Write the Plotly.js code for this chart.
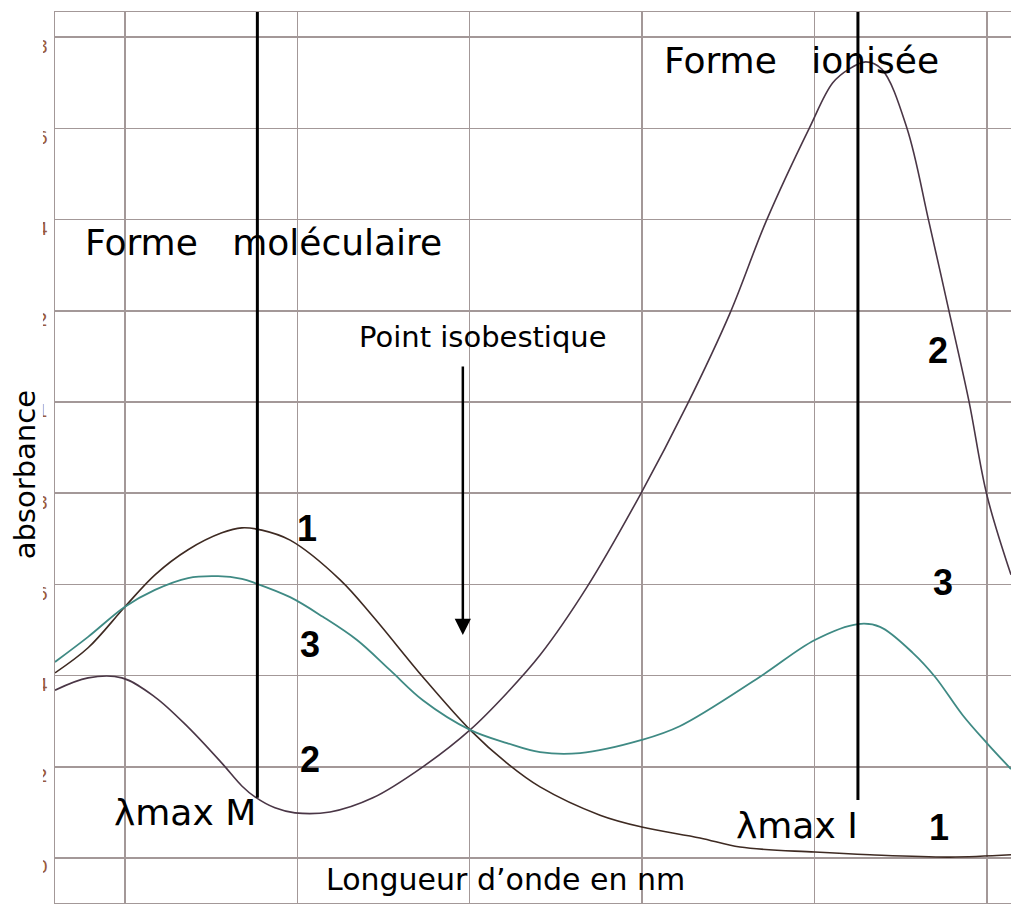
<!DOCTYPE html>
<html>
<head>
<meta charset="utf-8">
<script src="https://cdn.plot.ly/plotly-3.0.1.min.js"></script>
<style>
  html, body { margin: 0; padding: 0; background: #ffffff; }
  #chart { width: 1011px; height: 904px; }
</style>
</head>
<body>
<div id="chart"></div>
<script>
// Spectres d'absorption : forme moléculaire (1), forme ionisée (2), mélange (3)
const wavelength1 = [379.7, 389.3, 400.0, 408.7, 418.3, 428.1, 433.9, 439.7, 447.9, 462.4, 472.0, 486.4, 500.1, 510.8, 520.4, 537.8, 549.9, 566.8, 578.4, 600.1, 616.1, 639.3, 657.0];
const absorbance1 = [0.406, 0.461, 0.551, 0.621, 0.676, 0.713, 0.724, 0.719, 0.697, 0.610, 0.529, 0.397, 0.281, 0.208, 0.156, 0.094, 0.068, 0.044, 0.024, 0.013, 0.007, 0.002, 0.007];

const wavelength2 = [379.7, 389.3, 399.1, 408.7, 418.3, 428.1, 433.9, 437.7, 443.5, 449.3, 459.5, 471.9, 486.4, 500.1, 510.8, 520.4, 534.0, 549.4, 563.0, 575.5, 585.9, 598.4, 605.3, 610.0, 614.9, 619.5, 626.8, 633.2, 639.0, 644.8, 650.0, 657.0];
const absorbance2 = [0.368, 0.395, 0.395, 0.353, 0.287, 0.208, 0.158, 0.134, 0.110, 0.099, 0.101, 0.132, 0.200, 0.281, 0.362, 0.445, 0.594, 0.796, 0.993, 1.195, 1.395, 1.599, 1.700, 1.730, 1.746, 1.730, 1.601, 1.395, 1.200, 1.002, 0.796, 0.621];

const wavelength3 = [379.7, 389.3, 400.0, 408.7, 418.3, 427.0, 433.9, 437.7, 447.9, 457.4, 467.3, 476.9, 486.4, 500.1, 510.8, 520.4, 532.0, 549.9, 560.9, 584.1, 600.1, 612.6, 619.0, 628.5, 635.0, 643.0, 650.0, 657.0];
const absorbance3 = [0.430, 0.485, 0.551, 0.588, 0.614, 0.618, 0.612, 0.603, 0.572, 0.529, 0.478, 0.412, 0.346, 0.281, 0.252, 0.232, 0.230, 0.259, 0.289, 0.397, 0.478, 0.513, 0.507, 0.450, 0.397, 0.313, 0.252, 0.195];

// Longueurs d'onde repères (nm) et absorbance au pied des traits verticaux
const lambdaMaxM = 438.4;
const lambdaMaxI = 612.6;
const lambdaMaxMFoot = 0.132;
const lambdaMaxIFoot = 0.127;
const isobestic = { wavelength: 498.0, absorbance: 0.489, arrowStart: 1.081 };

// Graduations
const xTicks = [400, 450, 500, 550, 600, 650];
const yTicks = [0, 0.2, 0.4, 0.6, 0.8, 1.0, 1.2, 1.4, 1.6, 1.8];
const yTickText = ['0', '0,2', '0,4', '0,6', '0,8', '1', '1,2', '1,4', '1,6', '1,8'];

const gridColor = '#a39898';
const textFont = { family: 'DejaVu Sans, sans-serif', color: '#000000' };
const numFont = { family: 'Liberation Sans, Arial, sans-serif', size: 36, color: '#000000', weight: 700 };

const traces = [
  { x: wavelength1, y: absorbance1, mode: 'lines', name: '1',
    line: { color: '#3e2a22', width: 1.6, shape: 'spline', smoothing: 1 } },
  { x: wavelength2, y: absorbance2, mode: 'lines', name: '2',
    line: { color: '#4a3646', width: 1.6, shape: 'spline', smoothing: 1 } },
  { x: wavelength3, y: absorbance3, mode: 'lines', name: '3',
    line: { color: '#3f8a84', width: 1.8, shape: 'spline', smoothing: 1 } }
];

function label(text, x, y, size) {
  return { text: text, x: x, y: y, xref: 'x', yref: 'y', showarrow: false,
           xanchor: 'center', yanchor: 'middle', font: Object.assign({ size: size }, textFont) };
}
function number(text, x, y) {
  return { text: text, x: x, y: y, xref: 'x', yref: 'y', showarrow: false,
           xanchor: 'center', yanchor: 'middle', font: numFont };
}

const annotations = [
  label('Forme\u00a0\u00a0\u00a0moléculaire', 440.3, 1.349, 36),
  label('Forme\u00a0\u00a0\u00a0ionisée', 596.3, 1.750, 36),
  label('Point isobestique', 503.8, 1.143, 29),
  label('Longueur d\u2019onde en nm', 510.5, -0.048, 30),
  label('\u03bbmax M', 417.4, 0.099, 36),
  label('\u03bbmax I', 594.9, 0.072, 36),
  { text: 'absorbance', xref: 'paper', yref: 'y', x: -0.031, y: 0.84, textangle: -90,
    showarrow: false, xanchor: 'center', yanchor: 'middle', font: Object.assign({ size: 29 }, textFont) },
  number('1', 452.8, 0.722),
  number('3', 453.7, 0.469),
  number('2', 453.7, 0.217),
  number('2', 635.7, 1.114),
  number('3', 637.2, 0.605),
  number('1', 636.1, 0.066),
  { x: isobestic.wavelength, y: isobestic.absorbance, ax: isobestic.wavelength, ay: isobestic.arrowStart,
    xref: 'x', yref: 'y', axref: 'x', ayref: 'y', text: '', showarrow: true,
    arrowhead: 2, arrowsize: 1.3, arrowwidth: 2.5, arrowcolor: '#000000' }
];

const shapes = [
  { type: 'line', xref: 'x', yref: 'y', x0: lambdaMaxM, x1: lambdaMaxM, y0: lambdaMaxMFoot, y1: 1.9,
    line: { color: '#000000', width: 3 } },
  { type: 'line', xref: 'x', yref: 'y', x0: lambdaMaxI, x1: lambdaMaxI, y0: lambdaMaxIFoot, y1: 1.9,
    line: { color: '#000000', width: 3 } },
  // bande blanche : seule l'extrémité droite des graduations reste visible
  { type: 'rect', xref: 'paper', yref: 'paper', x0: -0.07, x1: -0.0126, y0: -0.01, y1: 1.02,
    fillcolor: '#ffffff', line: { width: 0 }, layer: 'above' }
];

const layout = {
  width: 1011, height: 904,
  margin: { l: 55, r: 0, t: 12, b: 1 },
  paper_bgcolor: '#ffffff', plot_bgcolor: '#ffffff',
  showlegend: false,
  xaxis: {
    range: [379.7, 657.0], tickvals: xTicks, showticklabels: false, ticks: '',
    showgrid: true, gridcolor: gridColor, gridwidth: 1.5, zeroline: false,
    showline: true, mirror: true, linecolor: gridColor, linewidth: 1.5
  },
  yaxis: {
    range: [-0.0987, 1.8553], tickvals: yTicks, ticktext: yTickText, ticks: '',
    tickfont: { family: 'DejaVu Sans, sans-serif', size: 18, color: '#9a5a3c' },
    ticklabelshift: 9, ticklabelstandoff: 2,
    showgrid: true, gridcolor: gridColor, gridwidth: 1.5, zeroline: false,
    showline: true, mirror: false, linecolor: gridColor, linewidth: 1.5
  },
  annotations: annotations,
  shapes: shapes
};

Plotly.newPlot('chart', traces, layout, { displayModeBar: false, staticPlot: true });
</script>
</body>
</html>
